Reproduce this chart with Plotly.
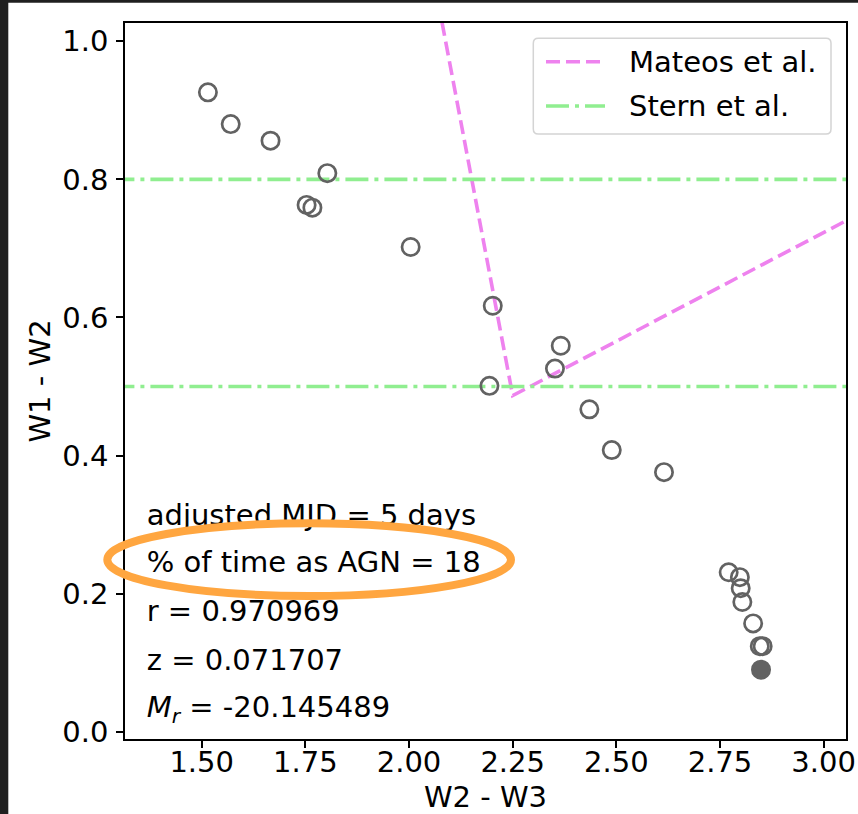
import plotly.graph_objects as go

# WISE colour-colour track of the source (W2-W3 vs W1-W2)
w2_w3 = [1.515, 1.570, 1.666, 1.803, 1.753, 1.767, 2.004, 2.202, 2.194, 2.366,
         2.352, 2.435, 2.489, 2.615, 2.771, 2.798, 2.800, 2.804, 2.830, 2.846,
         2.853]
w1_w2 = [0.926, 0.880, 0.856, 0.809, 0.763, 0.759, 0.702, 0.617, 0.501, 0.559,
         0.526, 0.467, 0.408, 0.376, 0.231, 0.224, 0.208, 0.188, 0.157, 0.124,
         0.124]

# latest epoch (filled marker)
last_w2_w3 = [2.849]
last_w1_w2 = [0.090]

# AGN selection criteria
mateos_x = [1.90, 2.2501, 3.20]
mateos_y = [1.597, 0.4868, 0.786]
stern_levels = [0.8, 0.5]
stern_span = [1.0, 3.5]

# info block
info_lines = [
    "adjusted MJD = 5 days",
    "% of time as AGN = 18",
    "r = 0.970969",
    "z = 0.071707",
    "<i>M<sub>r</sub></i> = -20.145489",
]
info_x = [1.3674] * 5
info_y = [0.3105, 0.2419, 0.1703, 0.1003, 0.0318]

x_ticks = [1.50, 1.75, 2.00, 2.25, 2.50, 2.75, 3.00]
x_tick_text = ["1.50", "1.75", "2.00", "2.25", "2.50", "2.75", "3.00"]
y_ticks = [0.0, 0.2, 0.4, 0.6, 0.8, 1.0]
y_tick_text = ["0.0", "0.2", "0.4", "0.6", "0.8", "1.0"]

FONT = "DejaVu Sans"
FS = 29
GREY = "#626262"
VIOLET = "#EE82EE"
LIGHTGREEN = "#90EE90"

W, H = 858, 814
ML, MR, MT, MB = 125, 12, 23, 75
PW, PH = W - ML - MR, H - MT - MB


def px(xp):
    return (xp - ML) / PW


def py(yp):
    return (H - MB - yp) / PH


fig = go.Figure()

fig.add_trace(go.Scatter(
    x=mateos_x, y=mateos_y, mode="lines", name="Mateos et al.",
    line=dict(color=VIOLET, width=3.6, dash="14px,6px"), showlegend=False))

for lvl in stern_levels:
    fig.add_trace(go.Scatter(
        x=stern_span, y=[lvl, lvl], mode="lines", name="Stern et al.",
        line=dict(color=LIGHTGREEN, width=3.6, dash="23px,6px,4px,6px"),
        showlegend=False))

fig.add_trace(go.Scatter(
    x=w2_w3, y=w1_w2, mode="markers", showlegend=False,
    marker=dict(symbol="circle", size=17.3, color="rgba(0,0,0,0)",
                line=dict(color=GREY, width=2.7))))

fig.add_trace(go.Scatter(
    x=last_w2_w3, y=last_w1_w2, mode="markers", showlegend=False,
    marker=dict(symbol="circle", size=17.3, color=GREY,
                line=dict(color=GREY, width=2.7))))

fig.add_trace(go.Scatter(
    x=info_x, y=info_y, mode="text", text=info_lines,
    textposition="middle right", showlegend=False,
    textfont=dict(family=FONT, size=FS, color="black")))

shapes = []

# highlight around the AGN fraction line
shapes.append(dict(
    type="circle", xref="paper", yref="paper", layer="above",
    x0=px(107.3), x1=px(511), y0=py(596), y1=py(523.3),
    line=dict(color="#FFA640", width=8)))

# legend box
lx0, lx1, ly0, ly1, r = 533.3, 831, 38.3, 134, 5
path = (f"M {px(lx0 + r)},{py(ly0)} L {px(lx1 - r)},{py(ly0)} "
        f"Q {px(lx1)},{py(ly0)} {px(lx1)},{py(ly0 + r)} "
        f"L {px(lx1)},{py(ly1 - r)} Q {px(lx1)},{py(ly1)} {px(lx1 - r)},{py(ly1)} "
        f"L {px(lx0 + r)},{py(ly1)} Q {px(lx0)},{py(ly1)} {px(lx0)},{py(ly1 - r)} "
        f"L {px(lx0)},{py(ly0 + r)} Q {px(lx0)},{py(ly0)} {px(lx0 + r)},{py(ly0)} Z")
shapes.append(dict(type="path", xref="paper", yref="paper", path=path,
                   layer="above", fillcolor="rgba(255,255,255,0.8)",
                   line=dict(color="#d4d4d4", width=1.5)))
shapes.append(dict(type="line", xref="paper", yref="paper", layer="above",
                   x0=px(546), x1=px(605), y0=py(61.7), y1=py(61.7),
                   line=dict(color=VIOLET, width=3.6, dash="14px,6px")))
shapes.append(dict(type="line", xref="paper", yref="paper", layer="above",
                   x0=px(546), x1=px(605), y0=py(106), y1=py(106),
                   line=dict(color=LIGHTGREEN, width=3.6,
                             dash="23px,6px,4px,6px")))

# window frame edges
shapes.append(dict(type="rect", xref="paper", yref="paper", layer="below",
                   x0=px(0), x1=px(8.3), y0=py(H), y1=py(0),
                   fillcolor="#202020", line=dict(width=0)))
shapes.append(dict(type="rect", xref="paper", yref="paper", layer="below",
                   x0=px(0), x1=px(W), y0=py(2.7), y1=py(0),
                   fillcolor="#202020", line=dict(width=0)))

annotations = [
    dict(xref="paper", yref="paper", x=px(627), y=py(62), text="Mateos et al.",
         showarrow=False, xanchor="left", yanchor="middle",
         font=dict(family=FONT, size=FS, color="black")),
    dict(xref="paper", yref="paper", x=px(627), y=py(106), text="Stern et al.",
         showarrow=False, xanchor="left", yanchor="middle",
         font=dict(family=FONT, size=FS, color="black")),
]

axis_common = dict(
    showgrid=False, zeroline=False, showline=True, linecolor="black",
    linewidth=1.6, mirror=True, ticks="outside", ticklen=7, tickwidth=1.6,
    tickcolor="black", tickfont=dict(family=FONT, size=FS, color="black"),
    automargin=False,
)

fig.update_layout(
    width=W, height=H,
    margin=dict(l=ML, r=MR, t=MT, b=MB),
    paper_bgcolor="white", plot_bgcolor="white",
    shapes=shapes, annotations=annotations,
    xaxis=dict(range=[1.315, 3.054], tickvals=x_ticks, ticktext=x_tick_text,
               title=dict(text="W2 - W3", font=dict(family=FONT, size=FS,
                                                      color="black"),
                          standoff=23),
               ticklabelstandoff=-11, **axis_common),
    yaxis=dict(range=[-0.0104, 1.0264], tickvals=y_ticks, ticktext=y_tick_text,
               title=dict(text="W1 - W2", font=dict(family=FONT, size=FS,
                                                      color="black"),
                          standoff=3),
               ticklabelstandoff=2, **axis_common),
)

fig.write_html("out.html")
